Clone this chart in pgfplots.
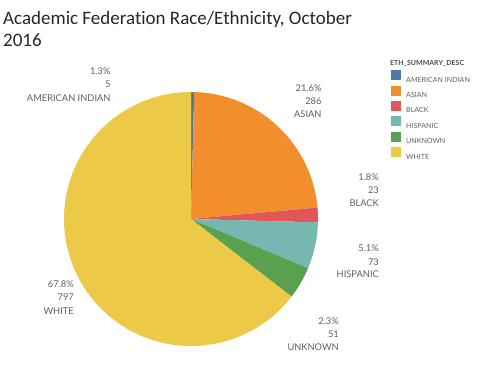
\documentclass[border=0pt]{standalone}
\usepackage{pgfplots}
\pgfplotsset{compat=1.18}
\usepackage{fontspec}
\setmainfont{Lato}
\newfontfamily\titlefont[Ligatures=NoCommon]{Carlito}
\definecolor{cAI}{HTML}{4E79A7}
\definecolor{cAS}{HTML}{F28E2B}
\definecolor{cBL}{HTML}{E15759}
\definecolor{cHI}{HTML}{76B7B2}
\definecolor{cUN}{HTML}{59A14F}
\definecolor{cWH}{HTML}{EDC948}
\definecolor{lbl}{HTML}{5F5F5F}
\begin{document}
\begin{tikzpicture}
\begin{axis}[
  width=500pt, height=385pt, scale only axis,
  xmin=0, xmax=500, ymin=0, ymax=385,
  hide axis, clip=false,
  legend cell align=left,
  legend style={draw=none, fill=none, at={(axis cs:391,315)}, anchor=north west,
    inner sep=0pt, row sep=3.4pt, column sep=5pt,
    font=\fontsize{7.1}{7.5}\selectfont\color{lbl},
    nodes={inner sep=0pt, text height=7pt, text depth=0pt}},
  legend image code/.code={\fill[#1] (0pt,-1.5pt) rectangle (10pt,8.5pt);},
]
\path (rel axis cs:0,0) rectangle (rel axis cs:1,1);
% pie: counts clockwise from 12 o'clock
\pgfplotsextra{
  \def\total{1235}
  \gdef\cum{0}
  \foreach \v/\c in {5/cAI,286/cAS,23/cBL,73/cHI,51/cUN,797/cWH}{
    \pgfmathsetmacro\a{90-360*(\cum/\total)}
    \pgfmathsetmacro\n{\cum+\v}
    \pgfmathsetmacro\b{90-360*(\n/\total)}
    \fill[\c] (axis cs:191,166) -- ++(\a:127pt) arc[start angle=\a, end angle=\b, radius=127pt] -- cycle;
    \xdef\cum{\n}
  }
}
\addlegendimage{fill=cAI, draw=none}\addlegendentry{AMERICAN INDIAN}
\addlegendimage{fill=cAS, draw=none}\addlegendentry{ASIAN}
\addlegendimage{fill=cBL, draw=none}\addlegendentry{BLACK}
\addlegendimage{fill=cHI, draw=none}\addlegendentry{HISPANIC}
\addlegendimage{fill=cUN, draw=none}\addlegendentry{UNKNOWN}
\addlegendimage{fill=cWH, draw=none}\addlegendentry{WHITE}
% title
\node[anchor=base west, inner sep=0pt, font=\titlefont\fontsize{19}{20}\selectfont, text=black!85] at (axis cs:3,360) {Academic Federation Race/Ethnicity, October};
\node[anchor=base west, inner sep=0pt, font=\titlefont\fontsize{19}{20}\selectfont, text=black!85] at (axis cs:3,338) {2016};
\node[anchor=base west, inner sep=0pt, font=\fontsize{7}{8}\selectfont\bfseries, text=black!70] at (axis cs:390,319.5) {ETH\_SUMMARY\_DESC};
% slice labels
\tikzset{lb/.style={anchor=base east, inner sep=0pt, font=\fontsize{9.3}{10}\selectfont, text=lbl}}
\node[lb] at (axis cs:110.7,310.5) {1.3\%};
\node[lb] at (axis cs:110.7,297.2) {5};
\node[lb] at (axis cs:110.7,283.9) {AMERICAN INDIAN};
\node[lb] at (axis cs:321.7,293.5) {21.6\%};
\node[lb] at (axis cs:321.7,280.5) {286};
\node[lb] at (axis cs:321.7,267.5) {ASIAN};
\node[lb] at (axis cs:379,204.5) {1.8\%};
\node[lb] at (axis cs:379,191.5) {23};
\node[lb] at (axis cs:379,178.5) {BLACK};
\node[lb] at (axis cs:379,133) {5.1\%};
\node[lb] at (axis cs:379,119.5) {73};
\node[lb] at (axis cs:379,107) {HISPANIC};
\node[lb] at (axis cs:339,60.5) {2.3\%};
\node[lb] at (axis cs:339,47.5) {51};
\node[lb] at (axis cs:339,34.5) {UNKNOWN};
\node[lb] at (axis cs:74,97) {67.8\%};
\node[lb] at (axis cs:74,84) {797};
\node[lb] at (axis cs:74,70.5) {WHITE};
\end{axis}
\end{tikzpicture}
\end{document}
